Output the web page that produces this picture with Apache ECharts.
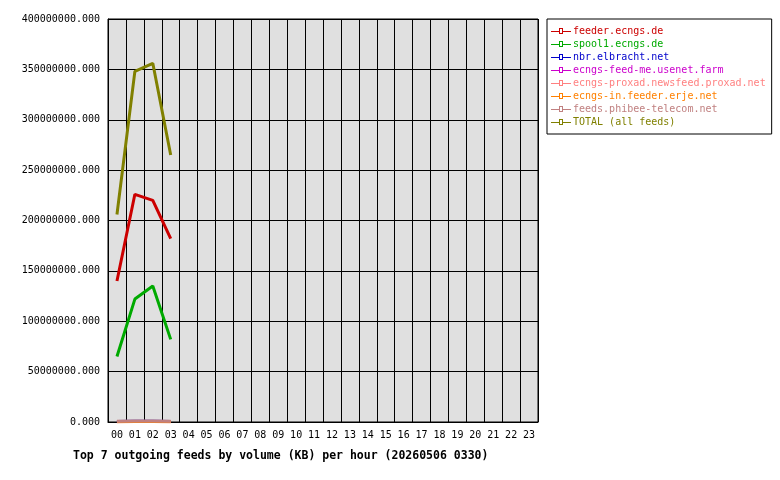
<!DOCTYPE html>
<html><head><meta charset="utf-8">
<script src="https://cdn.jsdelivr.net/npm/echarts@6/dist/echarts.min.js"></script>
<style>body{margin:0;background:#fff}#c{width:780px;height:480px}</style>
</head><body><div id="c"></div>
<script>
const hours = ['00','01','02','03','04','05','06','07','08','09','10','11','12','13','14','15','16','17','18','19','20','21','22','23'];
const seriesNames = ['feeder.ecngs.de','spool1.ecngs.de','nbr.elbracht.net','ecngs-feed-me.usenet.farm','ecngs-proxad.newsfeed.proxad.net','ecngs-in.feeder.erje.net','feeds.phibee-telecom.net','TOTAL (all feeds)'];
const colors = ['#cc0000','#00aa00','#0000cc','#cc00cc','#ff8080','#ff8000','#c08080','#808000'];
const feeder = [140000000,226000000,220000000,182000000];
const spool1 = [65000000,122000000,135000000,82000000];
const nbr = [500000,700000,700000,600000];
const usenetFarm = [400000,500000,500000,400000];
const proxad = [300000,400000,400000,300000];
const erje = [300000,400000,400000,300000];
const phibee = [800000,900000,900000,800000];
const total = [206000000,348000000,356000000,265000000];
const values = [feeder,spool1,nbr,usenetFarm,proxad,erje,phibee,total];
const font = 'DejaVu Sans Mono';
const icon = 'path://M0,3h8v-3h4v3h8v1h-8v2h-4v-2h-8z M9,1v4h2v-4z';
const chart = echarts.init(document.getElementById('c'));
chart.setOption({
  animation:false,
  textStyle:{fontFamily:font},
  grid:{left:108,top:19,right:242,bottom:58,show:true,backgroundColor:'#e0e0e0',borderColor:'#000',borderWidth:1},
  title:{text:'Top 7 outgoing feeds by volume (KB) per hour (20260506 0330)',left:68,top:445,textStyle:{fontFamily:font,fontSize:11.5,fontWeight:'bold',color:'#000'}},
  legend:{orient:'vertical',left:547,top:19,padding:[7,6,7,4],itemGap:3,itemWidth:20,itemHeight:6,icon:icon,
    borderColor:'#000',borderWidth:1,backgroundColor:'#fff',
    data:seriesNames.map((n,i)=>({name:n,textStyle:{color:colors[i]}})),
    textStyle:{fontFamily:font,fontSize:10,padding:[0,0,0,-3]},selectedMode:false},
  xAxis:{type:'category',data:hours,boundaryGap:true,
    axisLine:{lineStyle:{color:'#000'}},axisTick:{show:false},
    splitLine:{show:true,lineStyle:{color:'#000'}},
    axisLabel:{color:'#000',fontFamily:font,fontSize:10,interval:0}},
  yAxis:{type:'value',min:0,max:400000000,interval:50000000,
    axisLine:{show:true,lineStyle:{color:'#000'}},axisTick:{show:false},
    splitLine:{lineStyle:{color:'#000'}},
    axisLabel:{color:'#000',fontFamily:font,fontSize:10,formatter:v=>v.toFixed(3)}},
  series:seriesNames.map((n,i)=>({name:n,type:'line',data:values[i],color:colors[i],
    symbol:'rect',symbolSize:4,showSymbol:false,lineStyle:{width:3,color:colors[i]},itemStyle:{color:colors[i]}}))
});
</script></body></html>
